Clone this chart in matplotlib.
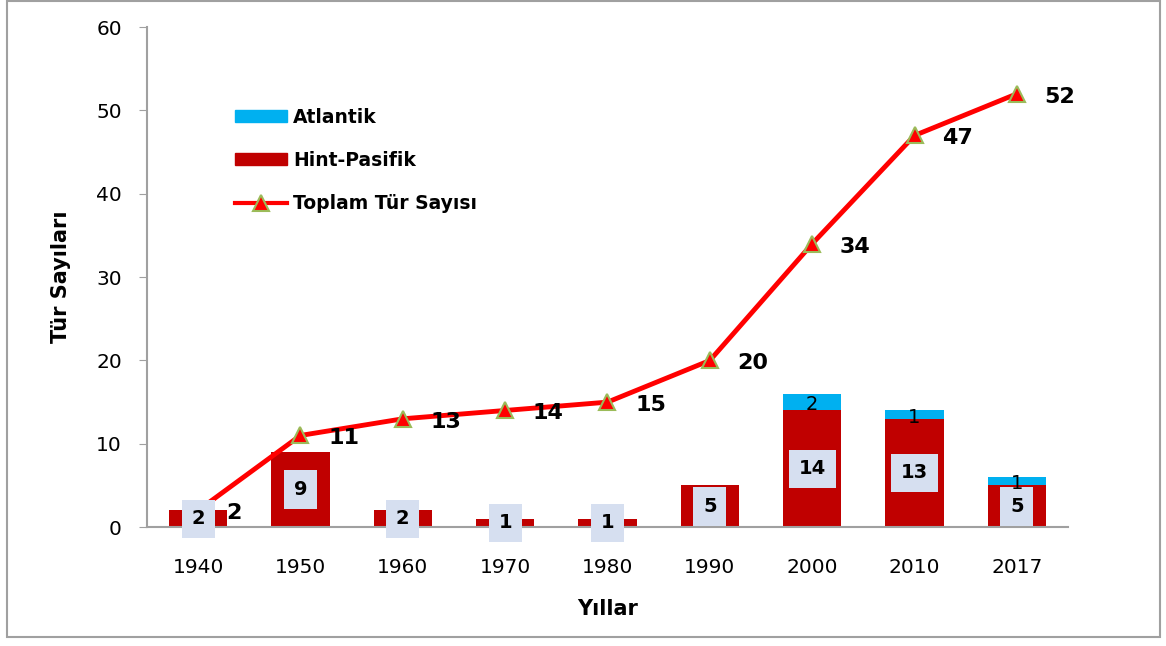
import numpy as np
import matplotlib
matplotlib.use("Agg")
import matplotlib.pyplot as plt
from matplotlib.patches import Rectangle
from matplotlib.lines import Line2D

years = ["1940", "1950", "1960", "1970", "1980", "1990", "2000", "2010", "2017"]
hint_pasifik = [2, 9, 2, 1, 1, 5, 14, 13, 5]
atlantik = [0, 0, 0, 0, 0, 0, 2, 1, 1]
toplam = [2, 11, 13, 14, 15, 20, 34, 47, 52]

plt.rcParams['font.family'] = ['DejaVu Sans']

fig = plt.figure(figsize=(11.66, 6.46), dpi=100)
ax = fig.add_axes([0.126, 0.184, 0.790, 0.774])

# outer gray frame
fig.patches.append(Rectangle((0.006, 0.014), 0.989, 0.984, transform=fig.transFigure,
                             fill=False, edgecolor='#a0a0a0', linewidth=1.5))

x = np.arange(len(years))
w = 0.57
ax.bar(x, hint_pasifik, width=w, color='#c00000', zorder=2)
ax.bar(x, atlantik, width=w, bottom=hint_pasifik, color='#00b0f0', zorder=2)

ax.plot(x, toplam, color='#ff0000', linewidth=3.5, marker='^', markersize=12,
        markerfacecolor='#ff0000', markeredgecolor='#9bbb59', markeredgewidth=1.5, zorder=3)

# labels inside red bars
for xi, v in zip(x, hint_pasifik):
    ax.text(xi, v / 2, str(v), ha='center', va='center', fontsize=14, fontweight='bold',
            zorder=5, bbox=dict(boxstyle='square,pad=0.5', facecolor='#d6dff0', edgecolor='none'))

# labels on atlantic part
for xi, h, a in zip(x, hint_pasifik, atlantik):
    if a > 0:
        ax.text(xi, h + a / 2 - 0.3, str(a), ha='center', va='center', fontsize=14, zorder=6)

# total labels
for xi, t in zip(x, toplam):
    ax.annotate(str(t), (xi, t), xytext=(20, -2), textcoords='offset points',
                ha='left', va='center', fontsize=16, fontweight='bold', zorder=6)

ax.set_xlim(-0.5, len(years) - 0.5)
ax.set_ylim(0, 60)
ax.set_yticks(range(0, 61, 10))
ax.set_xticks(x)
ax.set_xticklabels(years)
ax.tick_params(axis='x', length=0, pad=22, labelsize=14.5)
ax.tick_params(axis='y', direction='out', length=6, color='#a0a0a0', pad=12, labelsize=14.5)

for s in ['top', 'right']:
    ax.spines[s].set_visible(False)
ax.spines['left'].set_color('#a0a0a0')
ax.spines['bottom'].set_color('#a0a0a0')
ax.spines['left'].set_linewidth(1.5)
ax.spines['bottom'].set_linewidth(1.5)

ax.set_ylabel('Tür Sayıları', fontsize=15, fontweight='bold', labelpad=18)
ax.set_xlabel('Yıllar', fontsize=15, fontweight='bold', labelpad=16)

handles = [Rectangle((0, 0), 1, 1, color='#00b0f0'),
           Rectangle((0, 0), 1, 1, color='#c00000'),
           Line2D([], [], color='#ff0000', linewidth=3, marker='^', markersize=11,
                  markerfacecolor='#ff0000', markeredgecolor='#9bbb59', markeredgewidth=1.5)]
ax.legend(handles, ['Atlantik', 'Hint-Pasifik', 'Toplam Tür Sayısı'],
          loc='upper left', bbox_to_anchor=(0.077, 0.873), frameon=False,
          prop={'weight': 'bold', 'size': 13.5}, handlelength=2.8, handleheight=0.6,
          labelspacing=1.3, handletextpad=0.3)

fig.savefig('out.png', dpi=100)
